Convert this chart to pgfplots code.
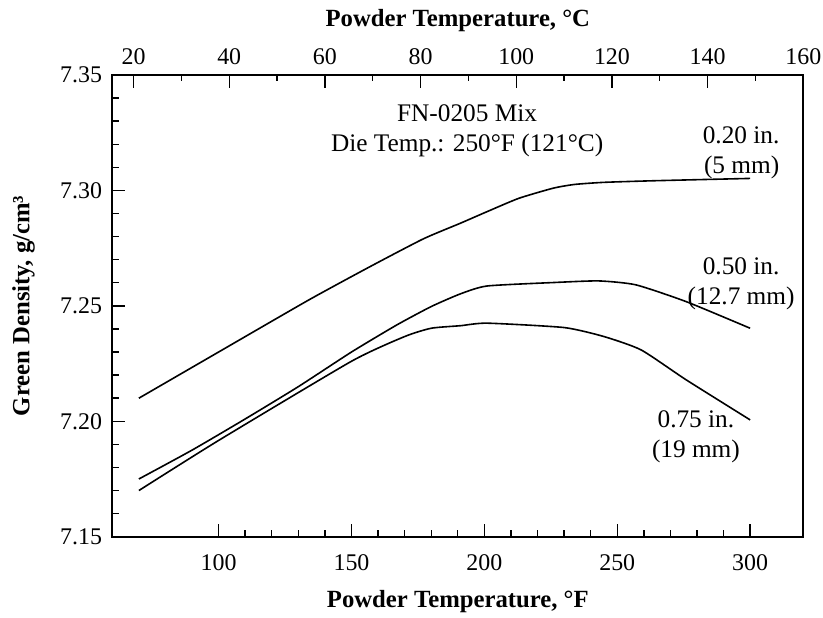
\documentclass[border=0pt]{standalone}
\usepackage{fontspec}
\setmainfont{Liberation Serif}
\usepackage{pgfplots}
\pgfplotsset{compat=1.18}
\begin{document}
\begin{tikzpicture}[font=\fontsize{12}{14.4}\selectfont]
\begin{axis}[
  name=main,
  scale only axis,
  width=345.5bp, height=230.85bp,
  xmin=60, xmax=320, ymin=7.15, ymax=7.35,
  xtick={100,150,200,250,300},
  minor x tick num=4,
  ytick={7.15,7.20,7.25,7.30,7.35},
  minor y tick num=4,
  xtick pos=bottom, ytick pos=left,
  tick align=inside,
  major tick length=6.5bp, minor tick length=3.2bp,
  every tick/.style={line width=0.7bp, black},
  axis line style={line width=1.1bp},
  /pgf/number format/assume math mode=true,
  yticklabel style={/pgf/number format/.cd, fixed, fixed zerofill, precision=2, /tikz/.cd, anchor=east, xshift=-1.6bp},
  xticklabel style={anchor=base, yshift=-16.65bp},
  xlabel={\fontsize{12.4}{14.4}\selectfont\bfseries Powder Temperature, °F},
  xlabel style={at={(axis description cs:0.5,-0.1523)}, anchor=base},
  ylabel={\fontsize{12.4}{14.4}\selectfont\bfseries Green Density, g/cm³},
  ylabel style={at={(axis description cs:-0.1201,0.5)}, anchor=base},
  clip=false,
]
\addplot[black, line width=0.8bp, smooth, tension=0.35] coordinates {
(70,7.210) (100,7.2300) (134,7.2526) (157,7.2670) (177,7.2790) (191,7.2858) (201,7.2908) (213,7.2966) (226,7.3010) (234,7.3026) (245,7.3035) (264,7.3042) (300,7.3052)};
\addplot[black, line width=0.8bp, smooth, tension=0.35] coordinates {
(70,7.175) (90,7.1875) (110,7.2010) (130,7.2150) (150,7.2300) (167,7.2417) (180,7.2497) (191,7.2552) (201,7.2586) (226,7.2601) (243,7.2608) (257,7.2591) (276,7.2518) (300,7.2403)};
\addplot[black, line width=0.8bp, smooth, tension=0.35] coordinates {
(70,7.170) (100,7.1917) (150,7.2260) (170,7.2367) (180,7.2403) (191,7.2414) (201,7.2425) (230,7.2406) (245,7.2367) (259,7.2309) (276,7.2179) (300,7.2006)};
\begin{scope}[font=\fontsize{12.7}{15}\selectfont]
\node[anchor=base] at (axis cs:193.5,7.3298) {FN-0205 Mix};
\node[anchor=base] at (axis cs:193.5,7.3168) {Die Temp.: 250°F (121°C)};
\node[anchor=base] at (axis cs:296.6,7.3204) {0.20 in.};
\node[anchor=base] at (axis cs:296.8,7.3075) {(5 mm)};
\node[anchor=base] at (axis cs:296.6,7.2634) {0.50 in.};
\node[anchor=base] at (axis cs:296.6,7.2508) {(12.7 mm)};
\node[anchor=base] at (axis cs:279.6,7.1971) {0.75 in.};
\node[anchor=base] at (axis cs:279.6,7.1841) {(19 mm)};
\end{scope}
\end{axis}
\begin{axis}[
  scale only axis,
  width=345.5bp, height=230.85bp,
  xmin=15.5556, xmax=160, ymin=7.15, ymax=7.35,
  axis x line*=top,
  hide y axis,
  xtick={20,40,...,160},
  minor x tick num=1,
  tick align=inside,
  major tick length=6.5bp, minor tick length=3.2bp,
  every tick/.style={line width=0.7bp, black},
  axis line style={line width=1.1bp},
  /pgf/number format/assume math mode=true,
  xticklabel style={anchor=base, yshift=5bp},
  xlabel={\fontsize{12.4}{14.4}\selectfont\bfseries Powder Temperature, °C},
  xlabel style={at={(axis description cs:0.5,1.104)}, anchor=base},
]
\addplot[draw=none] coordinates {(20,7.2)};
\end{axis}
\pgfresetboundingbox
\path[use as bounding box] ([xshift=-56.15bp,yshift=-40.65bp]main.south west) rectangle ([xshift=9.85bp,yshift=37.5bp]main.north east);
\end{tikzpicture}
\end{document}
